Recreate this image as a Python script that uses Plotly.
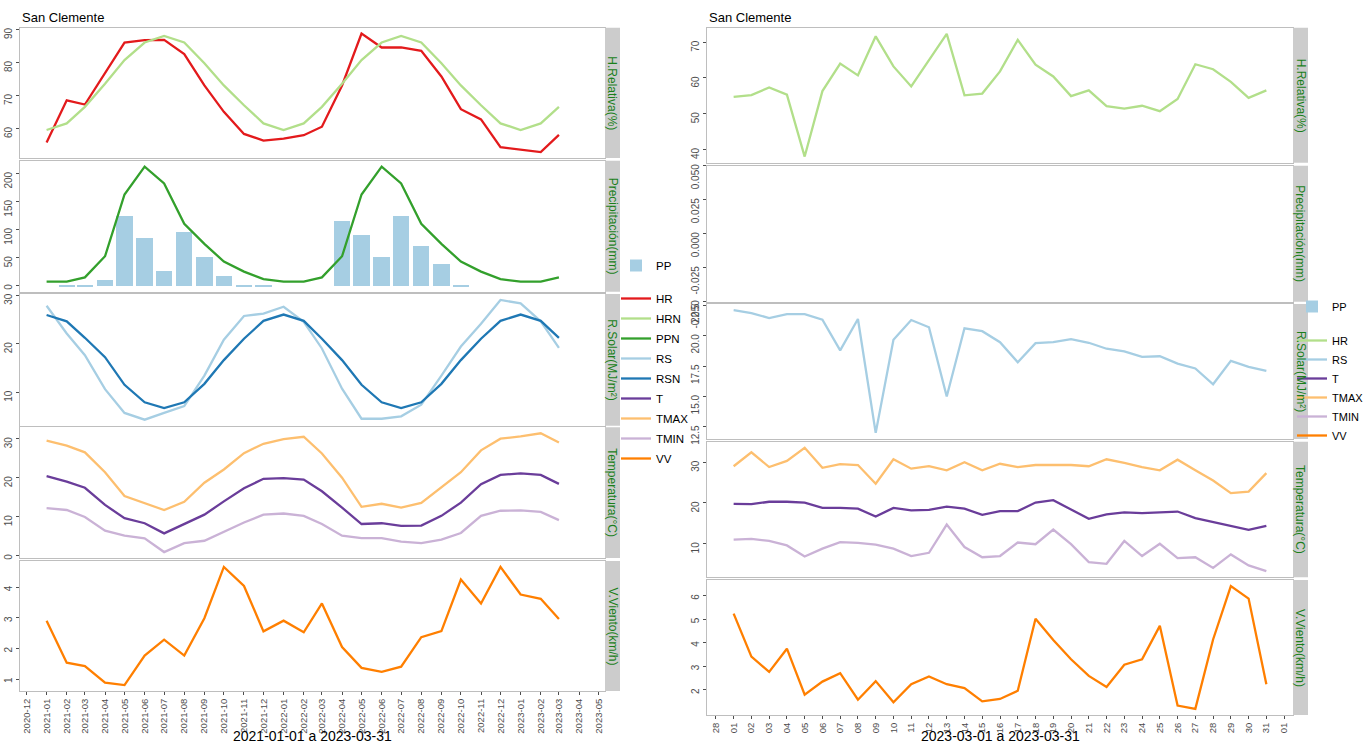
import pandas as pd
import plotly.graph_objects as go

STATION = "San Clemente"
FACETS = ["H.Relativa(%)", "Precipitación(mm)", "R.Solar(MJ/m²)",
          "Temperatura(°C)", "V.Viento(km/h)"]
TITLE_M = "2021-01-01 a 2023-03-31"
TITLE_D = "2023-03-01 a 2023-03-31"
SPAN_M = ("2021-01-01", "2023-03-31")
SPAN_D = ("2023-03-01", "2023-03-31")

# monthly series, 2021-01 .. 2023-03
MONTHS = pd.date_range("2021-01-01", "2023-03-01", freq="MS")
HR_M = [55.7, 68.5, 67.2, 76.7, 86.0, 86.7, 86.8, 82.5, 73.0, 65.0, 58.3, 56.3,
        56.9, 57.9, 60.5, 73.0, 88.7, 84.5, 84.5, 83.5, 75.7, 65.8, 62.7, 54.3,
        53.5, 52.8, 58.0]
HRN_M = [59.5, 61.5, 66.5, 73.5, 80.7, 86.0, 88.0, 86.0, 79.7, 73.0, 67.0, 61.5,
         59.5, 61.5, 66.5, 73.5, 80.7, 86.0, 88.0, 86.0, 79.7, 73.0, 67.0, 61.5,
         59.5, 61.5, 66.5]
PP_M = [0, 1, 1, 10, 124, 85, 26, 97, 51, 17, 1, 1,
        0, 0, 0, 115, 91, 52, 124, 72, 39, 1, 0, 0,
        0, 0, 0]
PPN_M = [7.2, 7.2, 14.9, 52.5, 162.4, 211.9, 182.1, 110.4, 74.6, 43.0, 25.1, 11.9,
         7.2, 7.2, 14.9, 52.5, 162.4, 211.9, 182.1, 110.4, 74.6, 43.0, 25.1, 11.9,
         7.2, 7.2, 14.9]
RS_M = [27.8, 22.1, 17.6, 10.6, 5.7, 4.3, 5.7, 7.1, 13.4, 20.8, 25.7, 26.2,
        27.6, 24.5, 19.0, 10.7, 4.5, 4.5, 5.0, 7.4, 13.4, 19.4, 24.1, 29.0,
        28.3, 24.6, 19.1]
RSN_M = [25.9, 24.6, 21.2, 17.2, 11.5, 7.9, 6.7, 7.9, 11.7, 16.6, 21.0, 24.7,
         26.0, 24.7, 21.0, 16.6, 11.5, 7.9, 6.7, 7.9, 11.7, 16.6, 21.0, 24.7,
         26.0, 24.7, 21.2]
T_M = [20.4, 19.0, 17.4, 13.0, 9.6, 8.3, 5.7, 8.2, 10.5, 13.9, 17.3, 19.7,
       19.9, 19.5, 16.5, 12.3, 8.1, 8.3, 7.6, 7.7, 10.2, 13.6, 18.3, 20.7,
       21.1, 20.7, 18.4]
TMAX_M = [29.5, 28.2, 26.5, 21.4, 15.3, 13.4, 11.7, 13.8, 18.7, 22.1, 26.3, 28.7,
          29.9, 30.5, 26.2, 20.0, 12.5, 13.3, 12.3, 13.5, 17.4, 21.4, 27.0, 30.0,
          30.6, 31.4, 29.0]
TMIN_M = [12.2, 11.7, 9.9, 6.4, 5.1, 4.4, 0.9, 3.2, 3.8, 6.1, 8.5, 10.5,
          10.8, 10.2, 8.1, 5.1, 4.5, 4.5, 3.6, 3.2, 4.1, 5.8, 10.2, 11.5,
          11.6, 11.2, 9.1]
VV_M = [2.91, 1.54, 1.43, 0.89, 0.81, 1.77, 2.29, 1.77, 2.99, 4.66, 4.04, 2.56,
        2.91, 2.53, 3.47, 2.05, 1.37, 1.24, 1.41, 2.37, 2.57, 4.25, 3.47, 4.66,
        3.76, 3.62, 2.96]

# daily series, March 2023
DAYS = pd.date_range("2023-03-01", "2023-03-31", freq="D")
HR_D = [54.7, 55.2, 57.3, 55.3, 38.0, 56.3, 64.0, 60.7, 71.6, 63.2, 57.6, 64.9,
        72.3, 55.1, 55.6, 61.8, 70.6, 63.7, 60.4, 54.9, 56.5, 52.1, 51.4, 52.2,
        50.7, 54.1, 63.8, 62.4, 58.9, 54.4, 56.5]
PP_D = [0, 0, 0, 0, 0, 0, 0, 0, 0, 0, 0, 0, 0, 0, 0, 0,
        0, 0, 0, 0, 0, 0, 0, 0, 0, 0, 0, 0, 0, 0, 0]
RS_D = [22.09, 21.85, 21.44, 21.77, 21.77, 21.31, 18.79, 21.36, 12.01, 19.65,
        21.28, 20.68, 14.99, 20.60, 20.36, 19.46, 17.81, 19.38, 19.46, 19.71,
        19.41, 18.92, 18.71, 18.25, 18.30, 17.70, 17.30, 16.00, 17.92, 17.43,
        17.11]
T_D = [19.8, 19.7, 20.3, 20.3, 20.1, 18.8, 18.8, 18.6, 16.7, 18.8, 18.2, 18.3,
       19.1, 18.6, 17.1, 18.0, 18.0, 20.1, 20.7, 18.4, 16.1, 17.2, 17.7, 17.5,
       17.7, 17.9, 16.3, 15.3, 14.3, 13.4, 14.4]
TMAX_D = [29.0, 32.4, 28.8, 30.3, 33.5, 28.6, 29.5, 29.3, 24.7, 30.7, 28.4, 29.0,
          28.0, 30.0, 28.0, 29.6, 28.8, 29.3, 29.3, 29.3, 29.0, 30.7, 29.8, 28.8,
          28.0, 30.6, 28.0, 25.5, 22.4, 22.8, 27.3]
TMIN_D = [11.0, 11.2, 10.7, 9.6, 6.9, 8.8, 10.4, 10.2, 9.8, 8.8, 7.0, 7.8,
          14.7, 9.2, 6.7, 7.0, 10.3, 9.9, 13.5, 9.9, 5.5, 5.1, 10.7, 7.0,
          10.0, 6.5, 6.7, 4.1, 7.4, 4.7, 3.3]
VV_D = [5.24, 3.41, 2.76, 3.75, 1.79, 2.35, 2.71, 1.58, 2.37, 1.47, 2.24, 2.57,
        2.24, 2.07, 1.51, 1.61, 1.96, 5.02, 4.12, 3.30, 2.59, 2.12, 3.07, 3.30,
        4.72, 1.33, 1.19, 4.14, 6.41, 5.88, 2.24]

# y breaks per facet (label decimals)
TICKS_M = [([60, 70, 80, 90], 0), ([0, 50, 100, 150, 200], 0), ([10, 20, 30], 0),
           ([0, 10, 20, 30], 0), ([1, 2, 3, 4], 0)]
TICKS_D = [([40, 50, 60, 70], 0), ([-0.05, -0.025, 0, 0.025, 0.05], 3),
           ([12.5, 15, 17.5, 20, 22.5], 1), ([10, 20, 30], 0), ([2, 3, 4, 5, 6], 0)]

C = dict(HR="#E31A1C", HRN="#B2DF8A", PPN="#33A02C", RS="#A6CEE3", RSN="#1F78B4",
         T="#6A3D9A", TMAX="#FDBF6F", TMIN="#CAB2D6", VV="#FF7F00", PP="#A6CEE3")

W, H = 1363, 744
FONT = "Liberation Sans, Arial, sans-serif"
INK2 = "#4D4D4D"
BORDER = "#BEBEBE"
STRIP = "#CCCCCC"
STRIP_INK = "#1A7F1A"
STRIP_W = 15

COLUMNS = [
    dict(x=MONTHS, span=SPAN_M, ticks=TICKS_M, title=TITLE_M,
         legend="legend", fill_legend="legend3",
         x0=20, x1=605, tick0="2020-12-01", dtick="M1", fmt="%Y-%m",
         rows=[(27.7, 158), (160.7, 291.7), (294, 425.7), (427.3, 558), (561, 691)],
         bars=PP_M,
         lines=[[("HR", HR_M, C["HR"]), ("HRN", HRN_M, C["HRN"])],
                [("PPN", PPN_M, C["PPN"])],
                [("RS", RS_M, C["RS"]), ("RSN", RSN_M, C["RSN"])],
                [("T", T_M, C["T"]), ("TMAX", TMAX_M, C["TMAX"]),
                 ("TMIN", TMIN_M, C["TMIN"])],
                [("VV", VV_M, C["VV"])]]),
    dict(x=DAYS, span=SPAN_D, ticks=TICKS_D, title=TITLE_D,
         legend="legend2", fill_legend="legend4",
         x0=707, x1=1293, tick0="2023-02-28", dtick=86400000, fmt="%d",
         rows=[(27.7, 162.7), (165.7, 301.7), (304, 439), (441.7, 577.3), (580, 715)],
         bars=PP_D,
         lines=[[("HR", HR_D, C["HRN"])],
                [],
                [("RS", RS_D, C["RS"])],
                [("T", T_D, C["T"]), ("TMAX", TMAX_D, C["TMAX"]),
                 ("TMIN", TMIN_D, C["TMIN"])],
                [("VV", VV_D, C["VV"])]]),
]
BAR_ROW = 1  # precipitation facet carries the PP bars


def expand(vals):
    lo, hi = min(vals), max(vals)
    if hi == lo:
        return [lo - 0.05, hi + 0.05]
    pad = (hi - lo) * 0.05
    return [lo - pad, hi + pad]


def tick_text(vals, nd):
    # ggplot draws rotated y labels ending at the break; pad with an
    # invisible copy so plotly's centred label lands the same way
    out = []
    for v in vals:
        s = f"{v:.{nd}f}"
        out.append(s + f"<span style='color:rgba(0,0,0,0)'>{s}</span>")
    return out


def refs(n):
    return ("x", "y") if n == 1 else (f"x{n}", f"y{n}")


fig = go.Figure()
axes = {}
shapes, annotations = [], []
for c, col in enumerate(COLUMNS):
    base = c * len(col["rows"])
    a, b = pd.Timestamp(col["span"][0]), pd.Timestamp(col["span"][1])
    xr = [a - (b - a) * 0.05, b + (b - a) * 0.05]
    step = pd.Series(col["x"]).diff().min()
    bar_w = 0.9 * step.total_seconds() * 1000

    bx, by = refs(base + BAR_ROW + 1)
    fig.add_trace(go.Bar(
        x=col["x"], y=col["bars"], width=bar_w, name="PP",
        marker=dict(color=C["PP"], line=dict(width=0)),
        legend=col["fill_legend"], legendgroup=f"{col['fill_legend']}-PP",
        xaxis=bx, yaxis=by, hoverinfo="skip"))

    for r, (top, bot) in enumerate(col["rows"]):
        n = base + r + 1
        xs, ys = refs(n)
        vals = list(col["bars"]) if r == BAR_ROW else []
        for name, ser, color in col["lines"][r]:
            fig.add_trace(go.Scatter(
                x=col["x"], y=ser, mode="lines", name=name,
                line=dict(color=color, width=2.3),
                legend=col["legend"], legendgroup=f"{col['legend']}-{name}",
                xaxis=xs, yaxis=ys, hoverinfo="skip"))
            vals += list(ser)
        bottom = r == len(col["rows"]) - 1
        tv, nd = col["ticks"][r]
        xkey = "xaxis" if n == 1 else f"xaxis{n}"
        ykey = "yaxis" if n == 1 else f"yaxis{n}"
        axes[xkey] = dict(
            domain=[col["x0"] / W, col["x1"] / W], anchor=ys, type="date",
            range=xr, showgrid=False, zeroline=False, showline=True,
            mirror=True, linecolor=BORDER, linewidth=1,
            showticklabels=bottom, ticks="outside" if bottom else "",
            ticklen=3, tickcolor=INK2, tickangle=-90, tick0=col["tick0"],
            dtick=col["dtick"], tickformat=col["fmt"],
            tickfont=dict(size=9.5, color=INK2, family=FONT))
        axes[ykey] = dict(
            domain=[1 - bot / H, 1 - top / H], anchor=xs, range=expand(vals),
            showgrid=False, zeroline=False, showline=True, mirror=True,
            linecolor=BORDER, linewidth=1, ticks="outside", ticklen=3,
            tickcolor=INK2, tickvals=tv, ticktext=tick_text(tv, nd),
            tickangle=-90, tickfont=dict(size=10, color=INK2, family=FONT))
        shapes.append(dict(type="rect", xref="paper", yref="paper",
                           x0=col["x1"] / W, x1=(col["x1"] + STRIP_W) / W,
                           y0=1 - bot / H, y1=1 - top / H,
                           fillcolor=STRIP, line=dict(width=0)))
        annotations.append(dict(
            x=(col["x1"] + STRIP_W / 2) / W, y=1 - (top + bot) / 2 / H,
            xref="paper", yref="paper", text=FACETS[r], textangle=90,
            showarrow=False, xanchor="center", yanchor="middle",
            font=dict(size=12, color=STRIP_INK, family=FONT)))
    annotations.append(dict(x=col["x0"] / W, y=1 - 18 / H, xref="paper",
                            yref="paper", text=STATION, showarrow=False,
                            xanchor="left", yanchor="middle",
                            font=dict(size=13, color="black", family=FONT)))
    annotations.append(dict(x=(col["x0"] + col["x1"]) / 2 / W, y=1 - 736 / H,
                            xref="paper", yref="paper", text=col["title"],
                            showarrow=False, xanchor="center", yanchor="middle",
                            font=dict(size=14, color="black", family=FONT)))


def legend_at(px, py, size, order="grouped"):
    # one group per key so the gap pads rows out to ggplot's 20px pitch
    return dict(x=px / W, y=1 - py / H, xanchor="left", yanchor="top",
                traceorder=order, tracegroupgap=1,
                bgcolor="rgba(0,0,0,0)", itemwidth=30,
                font=dict(size=size, color="black", family=FONT))


fig.update_layout(
    **axes, shapes=shapes, annotations=annotations,
    width=W, height=H, autosize=False,
    margin=dict(l=0, r=0, t=0, b=0, autoexpand=False),
    paper_bgcolor="white", plot_bgcolor="white", bargap=0,
    font=dict(family=FONT, color="black"), showlegend=True,
    legend=legend_at(616, 284, 11.5),
    legend3=legend_at(616, 251, 11.5),
    legend2=legend_at(1292, 326, 11, "normal"),
    legend4=legend_at(1292, 292, 11, "normal"))

fig.write_html("out.html", config={"displayModeBar": False},
               post_script="document.body.style.margin='0';")
